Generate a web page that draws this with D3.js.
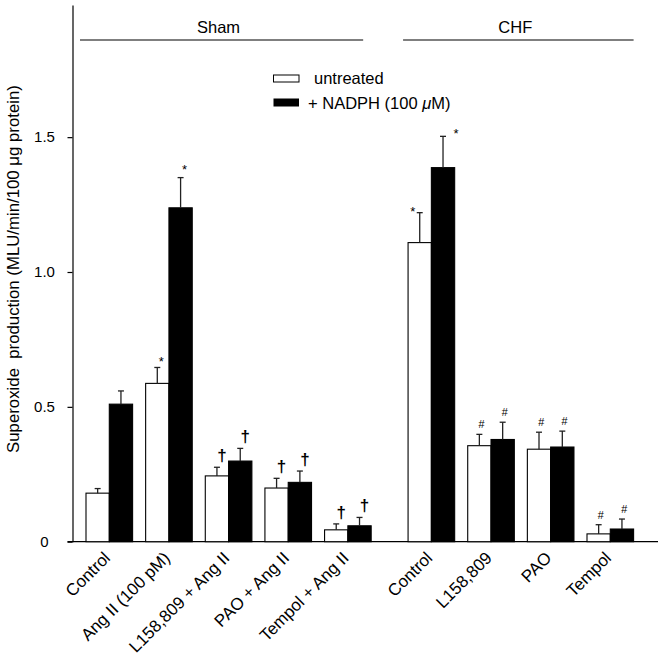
<!DOCTYPE html>
<html lang="en">
<head>
  <meta charset="UTF-8">
  <title>Superoxide production</title>
  <script src="https://d3js.org/d3.v7.min.js"></script>
  <style>
    body { margin: 0; background: #fff; }
    svg { font-family: "Liberation Sans", Arial, Helvetica, sans-serif; }
    .axis path, .axis line { fill: none; stroke: #000; stroke-width: 1.2; }
    .axis text { font-size: 15px; fill: #000; }
    .xlabel { font-size: 17px; }
    .group-label { font-size: 16.5px; text-anchor: middle; }
    .legend text { font-size: 16.5px; }
    .err { stroke: #222; stroke-width: 1.3; fill: none; }
  </style>
</head>
<body>
  <svg id="chart"></svg>
  <script>
    // values
    const categories = ["Control", "Ang II (100 pM)", "L158,809 + Ang II", "PAO + Ang II", "Tempol + Ang II",
                        "Control", "L158,809", "PAO", "Tempol"];
    const groups = ["Sham", "CHF"];
    const groupOf = [0, 0, 0, 0, 0, 1, 1, 1, 1];
    const untreated = [0.18, 0.587, 0.244, 0.199, 0.044, 1.109, 0.356, 0.343, 0.029];
    const untreatedErr = [0.017, 0.059, 0.032, 0.036, 0.022, 0.111, 0.042, 0.063, 0.034];
    const nadph = [0.51, 1.238, 0.299, 0.22, 0.059, 1.387, 0.379, 0.351, 0.047];
    const nadphErr = [0.049, 0.112, 0.047, 0.042, 0.031, 0.116, 0.064, 0.059, 0.037];
    const untreatedMarks = ["", "*", "\u2020", "\u2020", "\u2020", "*", "#", "#", "#"];
    const nadphMarks = ["", "*", "\u2020", "\u2020", "\u2020", "*", "#", "#", "#"];
    const yTicks = [0, 0.5, 1.0, 1.5];
    const legendLabels = ["untreated", "+ NADPH (100 \u03BCM)"];

    const width = 662, height = 660;
    const svg = d3.select("#chart").attr("width", width).attr("height", height);

    // slot index -> left edge of a bar pair (gap between Sham and CHF)
    const slot = i => groupOf[i] === 0 ? i : i + 0.4;
    const x = d3.scaleLinear().domain([0, 8.4]).range([86, 587]);
    const bw = 23.3;

    const y = d3.scaleLinear().domain([0, 1.99]).range([541.7, 5]);
    const axisX = 72.5;

    // y axis
    const yAxis = svg.append("g")
      .attr("class", "axis")
      .attr("transform", "translate(" + axisX + ",0)")
      .call(d3.axisLeft(y).tickValues(yTicks).tickSize(5).tickSizeOuter(0)
        .tickFormat(d => d === 0 ? "0" : d3.format(".1f")(d)));
    yAxis.selectAll("text").attr("x", -28).style("text-anchor", "middle");

    // baseline
    svg.append("line")
      .attr("x1", axisX - 5).attr("x2", 658)
      .attr("y1", y(0)).attr("y2", y(0))
      .attr("stroke", "#000").attr("stroke-width", 1.2);

    // y label
    svg.append("text")
      .attr("transform", "translate(19," + 269 + ") rotate(-90)")
      .attr("text-anchor", "middle")
      .style("font-size", "16.8px")
      .text("Superoxide\u00A0\u00A0production (MLU/min/100 \u03BCg protein)");

    const rows = categories.map((c, i) => ({ i, c }));

    // bars
    const bars = svg.append("g");
    bars.selectAll(".u").data(rows).enter().append("rect")
      .attr("x", d => x(slot(d.i)))
      .attr("y", d => y(untreated[d.i]))
      .attr("width", bw)
      .attr("height", d => y(0) - y(untreated[d.i]))
      .attr("fill", "#fff").attr("stroke", "#000").attr("stroke-width", 1.1);
    bars.selectAll(".n").data(rows).enter().append("rect")
      .attr("x", d => x(slot(d.i)) + bw)
      .attr("y", d => y(nadph[d.i]))
      .attr("width", bw)
      .attr("height", d => y(0) - y(nadph[d.i]))
      .attr("fill", "#000").attr("stroke", "#000").attr("stroke-width", 1.1);

    // error bars (upper only)
    function errBars(vals, errs, off) {
      const g = svg.append("g").attr("class", "err");
      rows.forEach(d => {
        const cx = x(slot(d.i)) + off + bw / 2;
        const top = y(vals[d.i] + errs[d.i]);
        g.append("line").attr("x1", cx).attr("x2", cx).attr("y1", y(vals[d.i])).attr("y2", top);
        g.append("line").attr("x1", cx - 3).attr("x2", cx + 3).attr("y1", top).attr("y2", top);
      });
    }
    errBars(untreated, untreatedErr, 0);
    errBars(nadph, nadphErr, bw);

    // significance marks
    const markStyle = {
      "*": { size: 13, weight: "normal", dx: 4, dy: -1 },
      "\u2020": { size: 17, weight: "bold", dx: 5, dy: -6 },
      "#": { size: 11, weight: "normal", dx: 2, dy: -6 }
    };
    // a few marks sit to one side of the cap
    const nudge = { "u5": [-11, 4], "n5": [9, 3], "n1": [0, -3] };
    function marks(vals, errs, syms, off, key) {
      rows.forEach(d => {
        const s = syms[d.i];
        if (!s) return;
        const st = markStyle[s];
        const nd = nudge[key + d.i] || [0, 0];
        svg.append("text")
          .attr("x", x(slot(d.i)) + off + bw / 2 + st.dx + nd[0])
          .attr("y", y(vals[d.i] + errs[d.i]) + st.dy + nd[1])
          .attr("text-anchor", "middle")
          .attr("fill", "#000")
          .style("font-size", st.size + "px")
          .style("font-weight", st.weight)
          .style("font-style", s === "#" ? "italic" : "normal")
          .text(s);
      });
    }
    marks(untreated, untreatedErr, untreatedMarks, 0, "u");
    marks(nadph, nadphErr, nadphMarks, bw, "n");

    // x labels
    svg.append("g").selectAll("text").data(rows).enter().append("text")
      .attr("class", "xlabel")
      .attr("text-anchor", "end")
      .attr("transform", d => "translate(" + (x(slot(d.i)) + bw + 2) + ",559) rotate(-45)")
      .text(d => d.c);

    // group headers
    const spans = [[0, 4], [5, 8]];
    groups.forEach((gName, g) => {
      const x1 = x(slot(spans[g][0])) - (g === 0 ? 6 : 5);
      const x2 = x(slot(spans[g][1])) + 2 * bw - (g === 0 ? 8 : 0);
      svg.append("line").attr("x1", x1).attr("x2", x2).attr("y1", 40).attr("y2", 40)
        .attr("stroke", "#000").attr("stroke-width", 1.2);
      svg.append("text").attr("class", "group-label")
        .attr("x", (x1 + x2) / 2 - 3).attr("y", 33).text(gName);
    });

    // legend
    const legend = svg.append("g").attr("class", "legend");
    legend.append("rect").attr("x", 273.5).attr("y", 75).attr("width", 25.5).attr("height", 7)
      .attr("fill", "#fff").attr("stroke", "#000").attr("stroke-width", 1);
    legend.append("rect").attr("x", 273.5).attr("y", 98.5).attr("width", 25.5).attr("height", 8)
      .attr("fill", "#000");
    legend.append("text").attr("x", 314).attr("y", 83.5).text(legendLabels[0]);
    legend.append("text").attr("x", 308).attr("y", 108.5)
      .html("+ NADPH (100 <tspan font-style='italic'>\u03BC</tspan>M)");
  </script>
</body>
</html>
